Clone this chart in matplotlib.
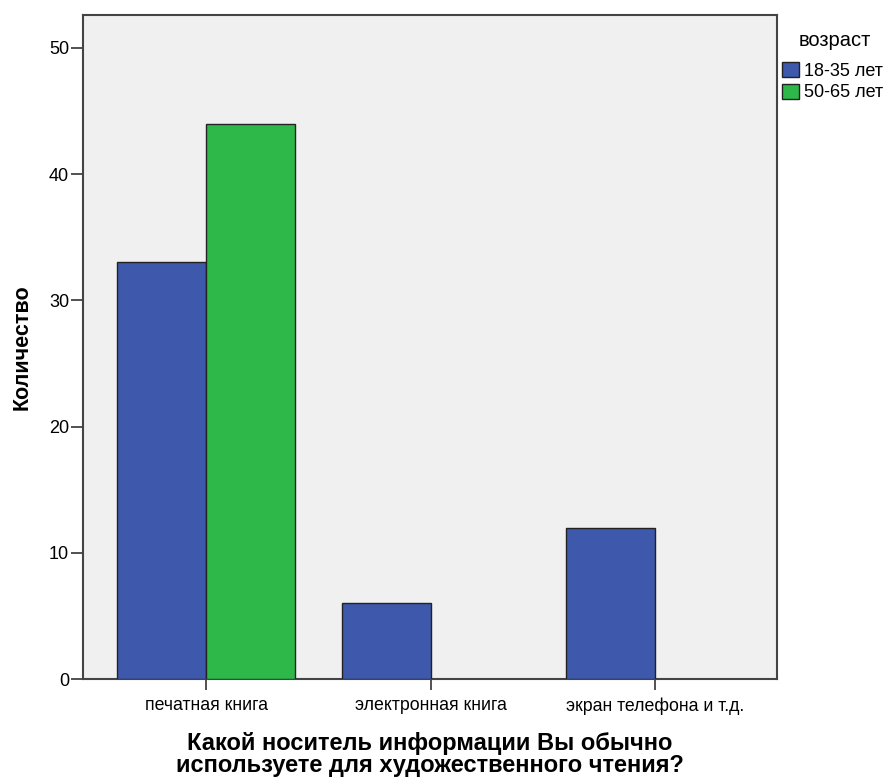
import matplotlib
matplotlib.use("Agg")
import matplotlib.pyplot as plt
import numpy as np
from matplotlib.patches import Patch

categories = ["печатная книга", "электронная книга", "экран телефона и т.д."]
series_names = ["18-35 лет", "50-65 лет"]
young = [33, 6, 12]
old = [44, 0, 0]
yticks = [0, 10, 20, 30, 40, 50]

plt.rcParams['font.family'] = ['Liberation Sans', 'DejaVu Sans']

fig = plt.figure(figsize=(8.88, 7.8), dpi=100)
ax = fig.add_axes([83/888, 1-679/780, (777-83)/888, (679-15)/780])
ax.set_facecolor('#f0f0f0')

w = 0.396
x = np.arange(len(categories))
blue = '#3e58ac'
green = '#2fb84a'
ax.bar(x - w/2, young, width=w, color=blue, edgecolor='#222222', linewidth=1, zorder=3)
old_vals = np.array(old)
mask = old_vals > 0
ax.bar((x + w/2)[mask], old_vals[mask], width=w, color=green, edgecolor='#222222', linewidth=1, zorder=3)

ax.set_xlim(-0.548, 2.543)
ax.set_ylim(0, 52.6)
ax.set_yticks(yticks)
ax.set_xticks(x)
ax.set_xticklabels(categories, fontsize=12.8)
ax.tick_params(axis='y', labelsize=13, length=8.5, width=1.2, color='#333333', pad=1.5)
ax.tick_params(axis='x', length=8, width=1.2, color='#333333', pad=5)
for s in ax.spines.values():
    s.set_color('#444444')
    s.set_linewidth(1.5)

ax.set_ylabel("Количество", fontsize=15.5, fontweight='bold', labelpad=12)
fig.text(430/888, 1-732/780,
         "Какой носитель информации Вы обычно\nиспользуете для художественного чтения?",
         fontsize=17, fontweight='bold', ha='center', va='top', linespacing=0.97,
         multialignment='center')

fig.text(835/888, 1-40/780, "возраст", fontsize=14.5, ha='center', va='center')
handles = [Patch(facecolor=blue, edgecolor='#222222'), Patch(facecolor=green, edgecolor='#222222')]
leg = fig.legend(handles, series_names, loc='upper left',
                 bbox_to_anchor=(781/888, 1-61/780), frameon=False, fontsize=13,
                 handlelength=0.95, handleheight=0.9,
                 handletextpad=0.3, labelspacing=0.22, borderaxespad=0, borderpad=0.05)

fig.savefig("out.png", dpi=100)
